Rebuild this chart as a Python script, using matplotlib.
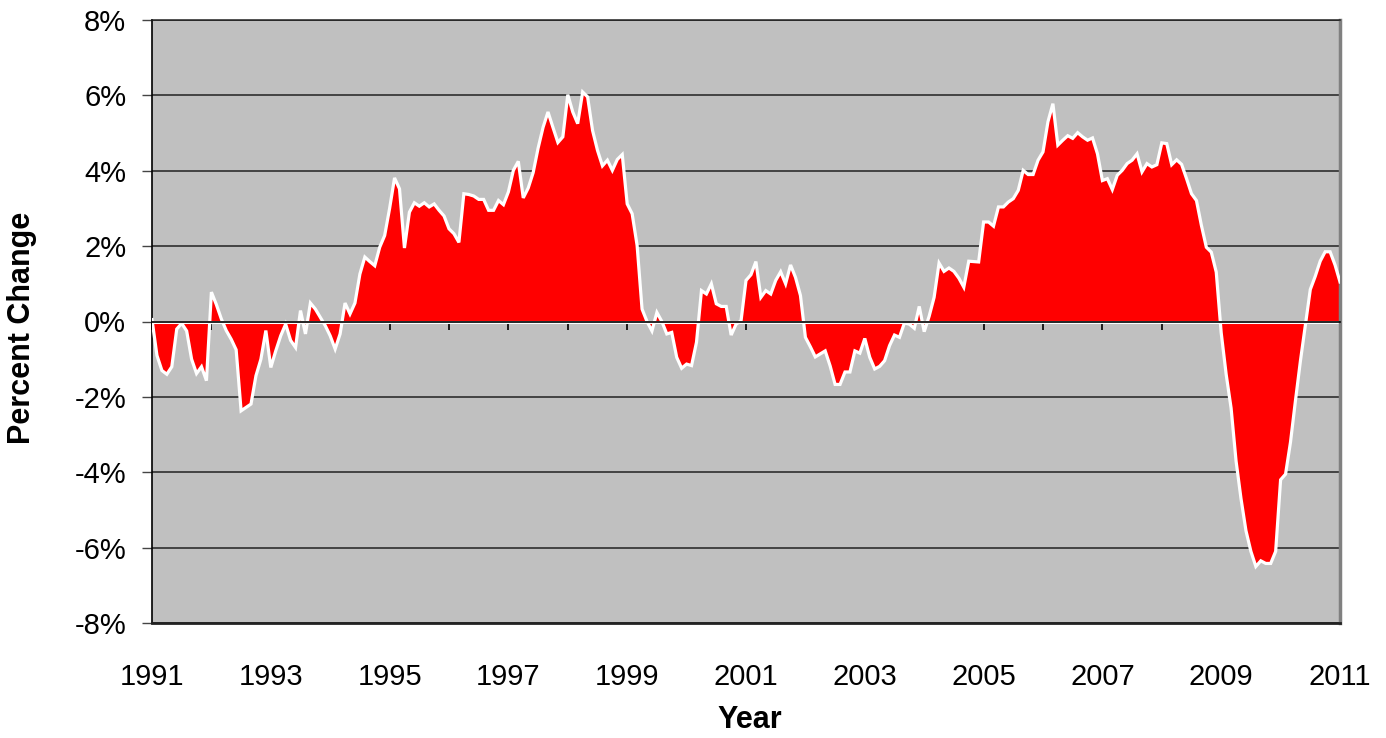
import numpy as np
import matplotlib
matplotlib.use("Agg")
import matplotlib.pyplot as plt
from matplotlib.ticker import FuncFormatter

plt.rcParams['font.family'] = ['Liberation Sans', 'DejaVu Sans']

# Monthly percent change, starting January 1991
start_year = 1991
pct_1991_1995 = [0.05, -0.9, -1.3, -1.4, -1.2, -0.2, -0.05, -0.25, -1.0, -1.38, -1.2, -1.57,
                 0.78, 0.45, 0.07, -0.24, -0.47, -0.75, -2.37, -2.28, -2.19, -1.44, -1.0, -0.24,
                 -1.22, -0.78, -0.38, -0.07, -0.5, -0.69, 0.29, -0.33, 0.49, 0.33, 0.11, -0.11,
                 -0.38, -0.73, -0.33, 0.49, 0.2, 0.49, 1.26, 1.71, 1.59, 1.48, 1.97, 2.28,
                 3.0, 3.81, 3.52, 1.95, 2.9, 3.15, 3.06, 3.15, 3.04, 3.12, 2.95, 2.8]
pct_1996_2000 = [2.46, 2.33, 2.1, 3.39, 3.37, 3.33, 3.24, 3.24, 2.95, 2.95, 3.21, 3.1,
                 3.44, 4.01, 4.25, 3.28, 3.54, 3.95, 4.6, 5.15, 5.56, 5.15, 4.75, 4.9,
                 6.02, 5.56, 5.25, 6.09, 5.96, 5.07, 4.54, 4.13, 4.28, 4.01, 4.3, 4.43,
                 3.12, 2.86, 2.02, 0.33, 0.0, -0.25, 0.24, 0.0, -0.33, -0.29, -0.95, -1.24,
                 -1.13, -1.17, -0.55, 0.82, 0.73, 1.0, 0.47, 0.4, 0.4, -0.36, -0.07, 0.02]
pct_2001_2005 = [1.09, 1.24, 1.59, 0.64, 0.82, 0.73, 1.09, 1.32, 1.0, 1.5, 1.17, 0.69,
                 -0.42, -0.67, -0.94, -0.86, -0.78, -1.18, -1.67, -1.67, -1.34, -1.34, -0.78, -0.84,
                 -0.45, -0.95, -1.26, -1.19, -1.04, -0.64, -0.36, -0.42, -0.04, -0.07, -0.18, 0.4,
                 -0.27, 0.14, 0.64, 1.55, 1.33, 1.42, 1.33, 1.15, 0.91, 1.6, 1.59, 1.58,
                 2.64, 2.64, 2.53, 3.04, 3.04, 3.17, 3.26, 3.48, 4.01, 3.9, 3.9, 4.28]
pct_2006_2011 = [4.5, 5.3, 5.78, 4.68, 4.81, 4.93, 4.86, 5.01, 4.9, 4.81, 4.87, 4.45,
                 3.74, 3.79, 3.5, 3.88, 4.01, 4.19, 4.28, 4.45, 3.97, 4.19, 4.1, 4.16,
                 4.74, 4.72, 4.16, 4.29, 4.17, 3.79, 3.39, 3.21, 2.55, 1.97, 1.84, 1.31,
                 -0.3, -1.4, -2.3, -3.7, -4.7, -5.55, -6.1, -6.5, -6.35, -6.42, -6.42, -6.1,
                 -4.2, -4.05, -3.2, -2.1, -1.05, -0.1, 0.85, 1.2, 1.6, 1.85, 1.85, 1.5,
                 1.05]

values = np.array(pct_1991_1995 + pct_1996_2000 + pct_2001_2005 + pct_2006_2011)
years = start_year + np.arange(len(values)) / 12.0

year_ticks = list(range(1991, 2012))
year_labels = list(range(1991, 2012, 2))
y_ticks = list(range(-8, 9, 2))

fig = plt.figure(figsize=(13.86, 7.38), dpi=100)
ax = fig.add_axes([152 / 1386, 1 - 623 / 738, (1340 - 152) / 1386, (623 - 20) / 738])
ax.set_facecolor('#C0C0C0')

ax.set_xlim(1991, 2011)
ax.set_ylim(-8, 8)

# gridlines
ax.set_yticks(y_ticks)
ax.yaxis.set_major_formatter(FuncFormatter(lambda v, p: f"{int(v)}%"))
ax.grid(axis='y', color='#222222', lw=1.1, zorder=1)
ax.set_axisbelow(True)

# area + white border
ax.fill_between(years, 0, values, color='#FF0000', linewidth=0, zorder=2)
ax.axhline(0, color='white', lw=2.2, zorder=2.5)
ax.plot(years, values, color='white', lw=2.3, zorder=3, solid_joinstyle='miter')

# spines
ax.spines['top'].set_color('#222222')
ax.spines['top'].set_linewidth(1.1)
ax.spines['right'].set_color('#808080')
ax.spines['right'].set_linewidth(2.5)
ax.spines['left'].set_color('black')
ax.spines['left'].set_linewidth(1.2)
ax.spines['bottom'].set_position(('data', 0))
ax.spines['bottom'].set_color('black')
ax.spines['bottom'].set_linewidth(1.2)
ax.spines['bottom'].set_zorder(4)
ax.axhline(-8, color='#222222', lw=2, zorder=4, clip_on=False)

ax.set_xticks(year_ticks)
ax.tick_params(axis='x', direction='out', length=6, width=1.2, color='black',
               labelbottom=False)
ax.tick_params(axis='y', direction='out', length=7.5, width=1, color='#444444',
               labelsize=21, pad=11)

sec = ax.secondary_xaxis('bottom')
sec.set_xticks(year_labels)
sec.set_xticklabels([str(y) for y in year_labels])
sec.tick_params(length=0, labelsize=21, pad=29)
sec.spines['bottom'].set_visible(False)

ax.set_ylabel('Percent Change', fontsize=22, fontweight='bold')
ax.yaxis.label.set_va('center')
ax.yaxis.set_label_coords(-0.1094, 0.49)
fig.text(750 / 1386, 1 - 720 / 738, 'Year', fontsize=22, fontweight='bold',
         ha='center', va='center')

fig.savefig('out.png', dpi=100)
